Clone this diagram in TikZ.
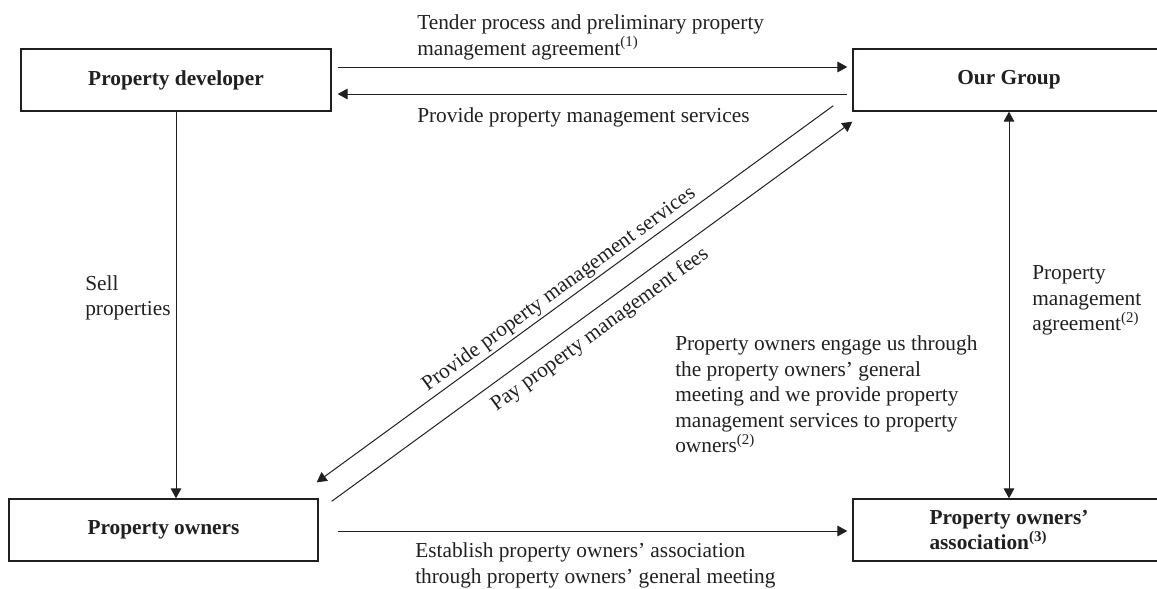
\documentclass[tikz,border=0pt]{standalone}
\usepackage{fontspec}
\setmainfont{Liberation Serif}
\usetikzlibrary{arrows.meta,calc}
\definecolor{ink}{HTML}{231F20}
\begin{document}
\begin{tikzpicture}[x=0.75pt,y=-0.75pt,
  font=\fontsize{16}{19.2}\selectfont, text=ink,
  box/.style={draw=ink, line width=1pt, inner sep=0pt, align=left,
    minimum height=46.5pt, font=\fontsize{16}{19.2}\selectfont\bfseries},
  tip/.tip={Triangle[length=7.5pt,width=8pt]},
  arr/.style={draw=ink, line width=0.75pt, -tip},
  dblarr/.style={draw=ink, line width=0.75pt, tip-tip},
  lbl/.style={inner sep=0pt, align=left, anchor=north west}]
\useasboundingbox (0,0) rectangle (1157,589);

% parties
\node[box, minimum width=232.5pt] (pd)  at (176,80)    {Property developer};
\node[box, minimum width=234pt]   (og)  at (1009,80)   {Our Group};
\node[box, minimum width=231.75pt] (po) at (163.5,530) {Property owners};
\node[box, minimum width=234pt]   (poa) at (1009,530)  {Property owners’\\association\textsuperscript{(3)}};

% developer <-> group
\draw[arr] ($(pd.east)+(6,-13)$) -- ($(og.west)+(-5,-13)$);
\draw[arr] ($(og.west)+(-5,14)$) -- ($(pd.east)+(6,14)$);
\node[lbl] (t1) at (417,14.5) {Tender process and preliminary property\\management agreement\textsuperscript{(1)}};
\node[lbl] (t2) at (417,107.5) {Provide property management services};

% developer -> owners
\draw[arr] (pd.south) -- (pd.south |- po.north);
\node[lbl] (t3) at (85,275) {Sell\\properties};

% owners <-> group
\draw[arr] ($(og.south west)+(-19,-6)$) -- ($(po.north east)+(-2,-16)$)
  node[pos=0.516, sloped, anchor=south, inner sep=2pt] {Provide property management services};
\draw[arr] ($(po.north east)+(13,3)$) -- ($(og.south west)+(0,10)$)
  node[pos=0.493, sloped, anchor=north, inner sep=7pt] {Pay property management fees};
\node[lbl] (t4) at (675,335.5) {Property owners engage us through\\the property owners’ general\\meeting and we provide property\\management services to property\\owners\textsuperscript{(2)}};

% group <-> association
\draw[dblarr] (og.south) -- (poa.north);
\node[lbl] (t5) at (1032,265.5) {Property\\management\\agreement\textsuperscript{(2)}};

% owners -> association
\draw[arr] ($(po.east)+(19,1)$) -- ($(poa.west)+(-5,1)$);
\node[lbl] (t6) at (415,542.5) {Establish property owners’ association\\through property owners’ general meeting};
\end{tikzpicture}
\end{document}
